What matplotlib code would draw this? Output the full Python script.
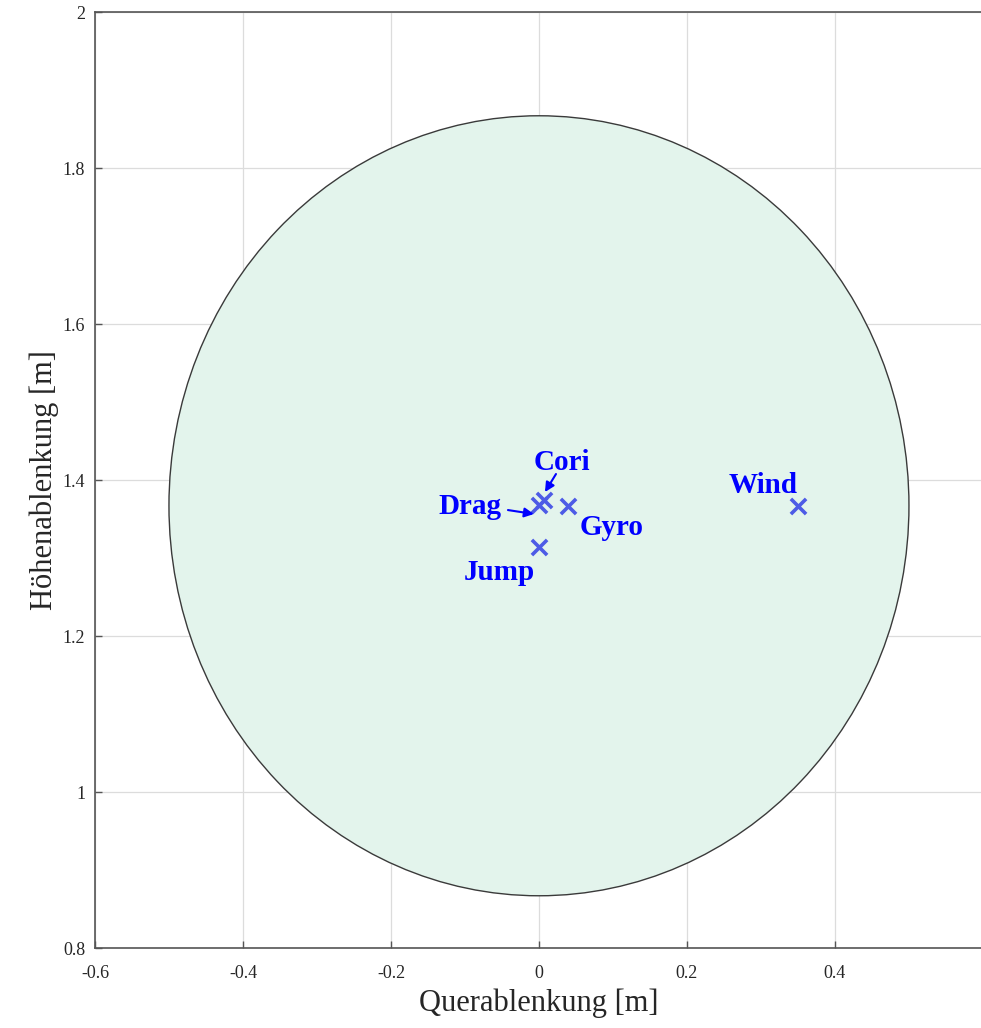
import numpy as np
import matplotlib
matplotlib.use("Agg")
import matplotlib.pyplot as plt
from matplotlib.patches import Ellipse

plt.rcParams['font.family'] = ['Liberation Serif', 'DejaVu Serif']

# Hit-area circle (centre and radius in metres)
circle_center = (0.0, 1.367)
circle_radius = 0.5

# Impact points for each disturbance effect
effects = ["Drag", "Cori", "Gyro", "Jump", "Wind"]
x_vals = [0.0, 0.007, 0.039, 0.0, 0.35]
y_vals = [1.368, 1.374, 1.367, 1.314, 1.367]

x_ticks = [-0.6, -0.4, -0.2, 0, 0.2, 0.4]
x_tick_labels = ["-0.6", "-0.4", "-0.2", "0", "0.2", "0.4"]
y_ticks = [0.8, 1.0, 1.2, 1.4, 1.6, 1.8, 2.0]
y_tick_labels = ["0.8", "1", "1.2", "1.4", "1.6", "1.8", "2"]

fig = plt.figure(figsize=(9.81, 10.28), dpi=100)
ax = fig.add_axes([0.0968, 0.0778, 0.9052, 0.9105])

ax.add_patch(Ellipse(circle_center, 2 * circle_radius, 2 * circle_radius,
                     facecolor="#e3f4ec", edgecolor="#3a3a3a", linewidth=1.0, zorder=1))

ax.scatter(x_vals, y_vals, marker="x", s=120, linewidths=2.6,
           color="#4d5be6", zorder=3)

txt_kw = dict(color="#0000ff", fontsize=21, fontweight="bold", zorder=4,
              ha="center", va="baseline")
arrow_kw = dict(arrowstyle="-|>", color="#0000ff", lw=1.5, mutation_scale=14,
                shrinkA=0, shrinkB=0)

# Labels
ax.text(0.031, 1.4128, "Cori", **txt_kw)
ax.text(-0.093, 1.3564, "Drag", **txt_kw)
ax.text(0.0986, 1.3295, "Gyro", **txt_kw)
ax.text(-0.054, 1.2718, "Jump", **txt_kw)
ax.text(0.3027, 1.3833, "Wind", **txt_kw)

# Leader arrows for the crowded centre points
ax.annotate("", xy=(0.0081, 1.3846), xytext=(0.023, 1.4077), arrowprops=arrow_kw, zorder=4)
ax.annotate("", xy=(-0.0068, 1.3564), xytext=(-0.0419, 1.3615), arrowprops=arrow_kw, zorder=4)

ax.set_xlim(-0.6, 0.6)
ax.set_ylim(0.8, 2.0)
ax.set_xticks(x_ticks)
ax.set_xticklabels(x_tick_labels)
ax.set_yticks(y_ticks)
ax.set_yticklabels(y_tick_labels)
ax.tick_params(direction="in", length=5, width=1, colors="#555555",
               labelcolor="#262626", labelsize=13, top=False, right=False)
ax.tick_params(axis="x", pad=12)
ax.tick_params(axis="y", pad=7)
ax.grid(True, color="#dcdcdc", linewidth=0.9, zorder=0)
ax.set_axisbelow(True)
for s in ax.spines.values():
    s.set_color("#555555")
    s.set_linewidth(1.2)

ax.set_xlabel("Querablenkung [m]", fontsize=22, color="#262626", labelpad=5)
ax.set_ylabel("Höhenablenkung [m]", fontsize=22, color="#262626", labelpad=3)

fig.savefig("out.png", dpi=100)
